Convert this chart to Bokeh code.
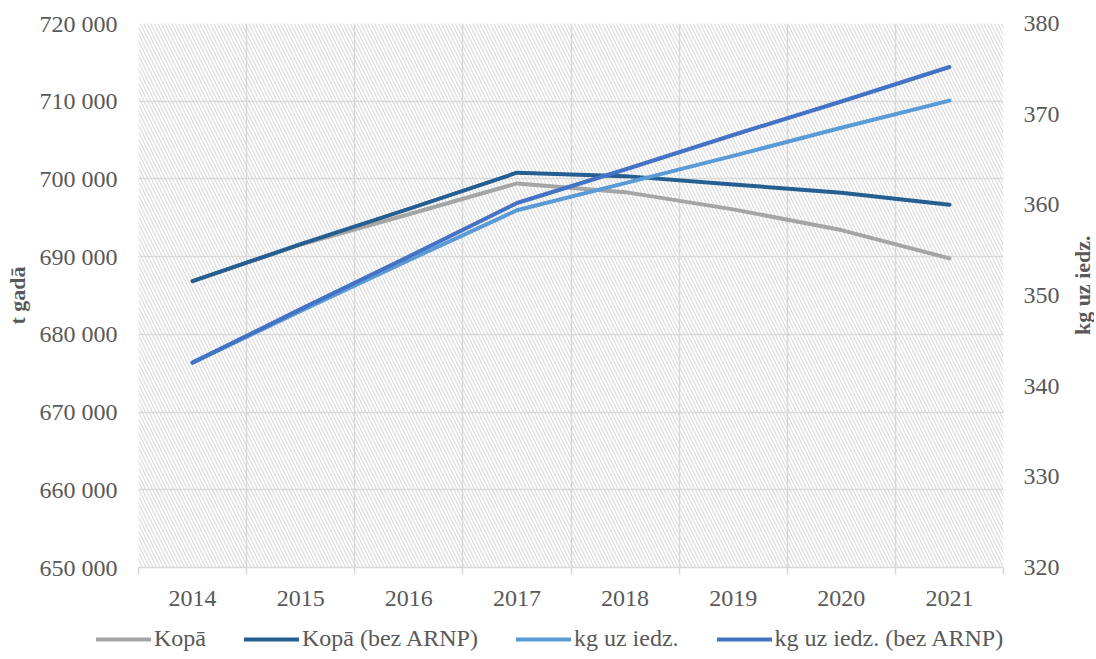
import math
from bokeh.plotting import figure
from bokeh.layouts import row, column
from bokeh.models import (Range1d, LinearAxis, FixedTicker, BoxAnnotation, Legend, LegendItem, Grid, Label)
from bokeh.embed import file_html
from bokeh.resources import INLINE

years = ["2014", "2015", "2016", "2017", "2018", "2019", "2020", "2021"]
kopa = [686850, 691550, 695450, 699420, 698300, 696080, 693420, 689780]
kopa_bez = [686850, 691600, 696150, 700800, 700360, 699290, 698220, 696680]
kg = [342.6, 348.3, 353.9, 359.4, 362.4, 365.4, 368.5, 371.5]
kg_bez = [342.6, 348.5, 354.3, 360.2, 363.9, 367.7, 371.4, 375.2]

left_ticks = [650000, 660000, 670000, 680000, 690000, 700000, 710000, 720000]
left_tick_labels = ["650 000", "660 000", "670 000", "680 000", "690 000", "700 000", "710 000", "720 000"]
right_ticks = [320, 330, 340, 350, 360, 370, 380]

series_names = ["Kopā", "Kopā (bez ARNP)", "kg uz iedz.", "kg uz iedz. (bez ARNP)"]
colors = ["#A5A5A5", "#255E91", "#5B9BD5", "#4472C4"]

FONT = "Liberation Serif"
TXT = "#595959"
GRID = "#d9d9d9"

# layout sizes (px)
BORDER_L, BORDER_R, BORDER_T, BORDER_B = 138, 67, 23, 46
FRAME_W, FRAME_H = 865, 544
MAIN_W = BORDER_L + FRAME_W + BORDER_R
MAIN_H = BORDER_T + FRAME_H + BORDER_B
TITLE_W = 24
LEG_H = 39

x = list(range(len(years)))
bounds = [i - 0.5 for i in range(len(years) + 1)]

p = figure(width=MAIN_W, height=MAIN_H, output_backend="svg", toolbar_location=None,
           x_range=Range1d(-0.5, len(years) - 0.5), y_range=Range1d(left_ticks[0], left_ticks[-1]),
           min_border_left=BORDER_L, min_border_right=BORDER_R, min_border_top=BORDER_T,
           min_border_bottom=BORDER_B, outline_line_color=None, x_axis_type=None, y_axis_type=None)
p.extra_y_ranges = {"right": Range1d(right_ticks[0], right_ticks[-1])}

# hatched background
bg = BoxAnnotation(fill_alpha=0, line_color=None, hatch_pattern="left_diagonal_line",
                   hatch_color="#dcdcdc", hatch_weight=1.2, hatch_scale=7, level="image")
p.add_layout(bg)

# x axis
xa = LinearAxis(ticker=FixedTicker(ticks=x, minor_ticks=bounds))
xa.major_label_overrides = {i: y for i, y in zip(x, years)}
xa.major_tick_out = 0
xa.major_tick_in = 0
xa.minor_tick_out = 7
xa.minor_tick_in = 0
xa.minor_tick_line_color = GRID
xa.minor_tick_line_width = 1.5
xa.axis_line_color = GRID
xa.axis_line_width = 1.5
xa.major_label_standoff = 16
xa.major_label_text_font = FONT
xa.major_label_text_font_size = "24px"
xa.major_label_text_color = TXT
p.add_layout(xa, "below")

# left axis
ya = LinearAxis(ticker=FixedTicker(ticks=left_ticks), axis_label="t gadā")
ya.major_label_overrides = {t: l for t, l in zip(left_ticks, left_tick_labels)}
ya.axis_line_color = None
ya.major_tick_line_color = None
ya.minor_tick_line_color = None
ya.major_tick_out = 0
ya.major_tick_in = 0
ya.minor_tick_out = 0
ya.minor_tick_in = 0
ya.major_label_standoff = 21
ya.major_label_text_font = FONT
ya.major_label_text_font_size = "24px"
ya.major_label_text_color = TXT
ya.axis_label_text_font = FONT
ya.axis_label_text_font_size = "22px"
ya.axis_label_text_font_style = "bold"
ya.axis_label_text_color = TXT
ya.axis_label_standoff = 7
p.add_layout(ya, "left")

# right axis
ra = LinearAxis(y_range_name="right", ticker=FixedTicker(ticks=right_ticks))
ra.axis_line_color = None
ra.major_tick_line_color = None
ra.minor_tick_line_color = None
ra.major_tick_out = 0
ra.major_tick_in = 0
ra.minor_tick_out = 0
ra.minor_tick_in = 0
ra.major_label_standoff = 20
ra.major_label_text_font = FONT
ra.major_label_text_font_size = "24px"
ra.major_label_text_color = TXT
p.add_layout(ra, "right")

# grids
vg = Grid(dimension=0, ticker=FixedTicker(ticks=bounds), grid_line_color=GRID, grid_line_width=1.5)
hg = Grid(dimension=1, ticker=FixedTicker(ticks=left_ticks), grid_line_color=GRID, grid_line_width=1.5)
p.add_layout(vg)
p.add_layout(hg)

lw = 4
series = [kopa, kopa_bez, kg, kg_bez]
ranges = ["default", "default", "right", "right"]
for vals, c, rn in zip(series, colors, ranges):
    p.line(x, vals, line_color=c, line_width=lw, line_cap="round", line_join="round", y_range_name=rn)

# right axis title in a thin side figure (reads bottom-to-top)
tf = figure(width=TITLE_W, height=MAIN_H, output_backend="svg", toolbar_location=None,
            x_range=Range1d(0, TITLE_W), y_range=Range1d(0, MAIN_H),
            min_border=0, outline_line_color=None, x_axis_type=None, y_axis_type=None)
tf.xgrid.visible = False
tf.ygrid.visible = False
frame_mid = BORDER_B + FRAME_H / 2
tf.add_layout(Label(x=TITLE_W / 2, y=frame_mid, angle=math.pi / 2, text="kg uz iedz.",
                    text_align="center", text_baseline="middle", text_font=FONT,
                    text_font_style="bold", text_font_size="22px", text_color=TXT))

# legend in a strip figure below (proxy lines lie outside its visible range)
lf = figure(width=MAIN_W + TITLE_W, height=LEG_H, output_backend="svg", toolbar_location=None,
            x_range=Range1d(-20, -19), y_range=Range1d(-20, -19),
            min_border=0, outline_line_color=None, x_axis_type=None, y_axis_type=None)
lf.xgrid.visible = False
lf.ygrid.visible = False
items = []
for name, vals, c in zip(series_names, series, colors):
    r = lf.line(x, vals, line_color=c, line_width=lw, line_cap="round")
    items.append(LegendItem(label=name, renderers=[r]))
legend = Legend(items=items, orientation="horizontal", location=(96, 0))
legend.label_text_font = FONT
legend.label_text_font_size = "24px"
legend.label_text_color = TXT
legend.glyph_width = 55
legend.glyph_height = 24
legend.label_standoff = 3
legend.spacing = 38
legend.padding = 0
legend.margin = 0
legend.border_line_color = None
legend.background_fill_alpha = 0
lf.add_layout(legend)

layout = column(row(p, tf), lf)
open("out.html", "w").write(file_html(layout, INLINE))
